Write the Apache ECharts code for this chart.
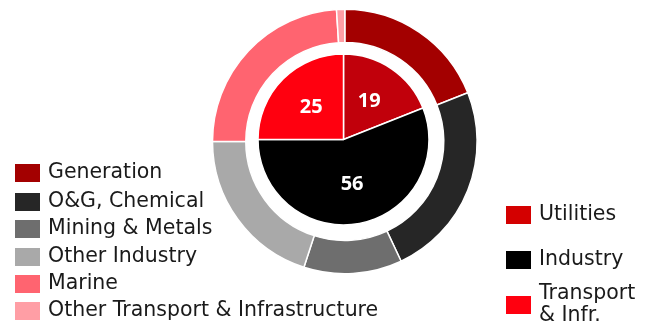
<!DOCTYPE html>
<html>
<head>
<meta charset="utf-8">
<script src="https://cdn.jsdelivr.net/npm/echarts@6/dist/echarts.min.js"></script>
<style>
  html, body { margin: 0; padding: 0; background: #fff; }
  #chart { width: 646px; height: 325px; }
</style>
</head>
<body>
<div id="chart"></div>
<script>
// Revenue split by customer segment (%)
const segmentNames = ['Utilities', 'Industry', 'Transport\n& Infr.'];
const segmentValues = [19, 56, 25];
const segmentColors = ['#c1000b', '#000000', '#ff000f'];
const segmentLegendColors = ['#d40000', '#000000', '#ff000f'];

// Breakdown into sub-segments (outer ring, %)
const subNames = ['Generation', 'O&G, Chemical', 'Mining & Metals', 'Other Industry', 'Marine', 'Other Transport & Infrastructure'];
const subValues = [19, 24, 12, 20, 24, 1];
const subColors = ['#a30000', '#262626', '#6e6e6e', '#a9a9a9', '#ff6470', '#ff9ea5'];

const FONT = '"DejaVu Sans", sans-serif';

const chart = echarts.init(document.getElementById('chart'), null, { renderer: 'canvas' });

const legendText = {
  fontFamily: FONT,
  fontSize: 20.5,
  lineHeight: 22,
  color: '#1a1a1a',
  padding: [0, 0, 0, 2]
};

// one legend block per entry so each row sits at its own height
function legendEntry(name, color, left, top) {
  return {
    orient: 'vertical',
    left: left,
    top: top,
    padding: 0,
    itemWidth: 27,
    itemHeight: 20,
    icon: 'rect',
    selectedMode: false,
    textStyle: legendText,
    data: [{ name: name, itemStyle: { color: color } }]
  };
}

const leftLegendTops = [162, 191, 218, 246, 273, 300];
const rightLegendTops = [204, 249, 283];

const legends = subNames.map((n, i) => legendEntry(n, subColors[i], 13, leftLegendTops[i]))
  .concat(segmentNames.map((n, i) => legendEntry(n, segmentLegendColors[i], 504, rightLegendTops[i])));

chart.setOption({
  animation: false,
  legend: legends,
  series: [
    {
      type: 'pie',
      center: [343.5, 139.5],
      radius: [0, 85.5],
      startAngle: 90,
      clockwise: true,
      silent: true,
      data: segmentNames.map((n, i) => ({ name: n, value: segmentValues[i], itemStyle: { color: segmentColors[i] } })),
      itemStyle: { borderColor: '#fff', borderWidth: 1.5 },
      label: {
        show: true,
        position: 'inside',
        formatter: '{c}',
        color: '#fff',
        fontFamily: '"Noto Sans", sans-serif',
        fontSize: 20,
        fontWeight: 'bold'
      },
      labelLine: { show: false },
      emphasis: { disabled: true }
    },
    {
      type: 'pie',
      center: [344.8, 141.5],
      radius: [99, 132.3],
      startAngle: 90,
      clockwise: true,
      silent: true,
      data: subNames.map((n, i) => ({ name: n, value: subValues[i], itemStyle: { color: subColors[i] } })),
      itemStyle: { borderColor: '#fff', borderWidth: 1.5 },
      label: { show: false },
      labelLine: { show: false },
      emphasis: { disabled: true }
    }
  ]
});
</script>
</body>
</html>
